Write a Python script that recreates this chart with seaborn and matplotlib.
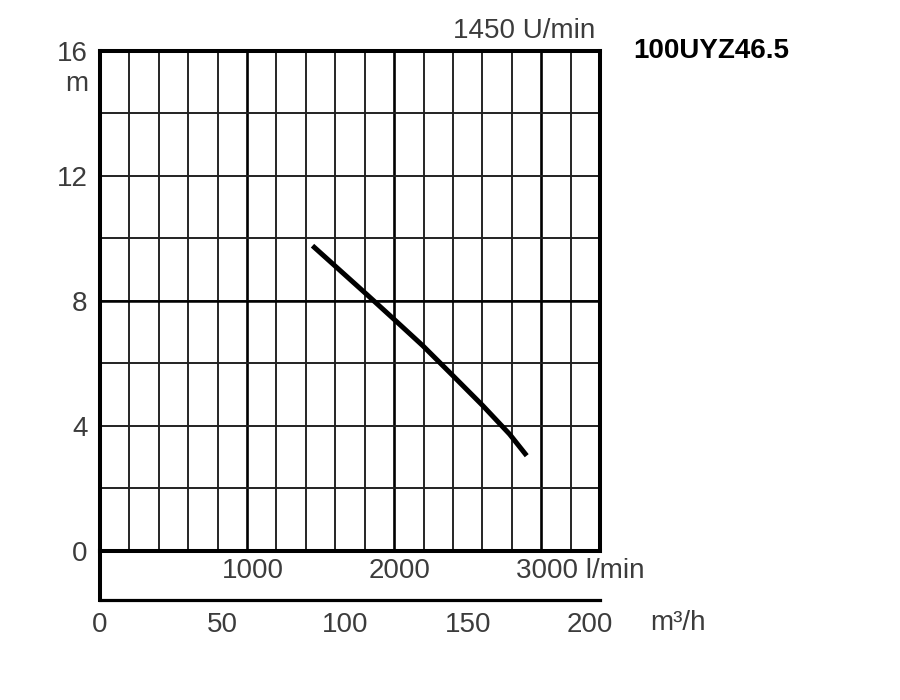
import pandas as pd
import seaborn as sns
import matplotlib.pyplot as plt

# pump curve (flow in m3/h, head in m)
flow_m3h = [86.7, 108.7, 120.6, 131.7, 144.0, 156.2, 167.1, 174.1]
head_m = [9.76, 8.21, 7.36, 6.56, 5.60, 4.64, 3.73, 3.04]

head_ticks = [0, 4, 8, 12, 16]
head_minor = [2, 6, 10, 14]
flow_ticks = [0, 50, 100, 150, 200]
lmin_labels = [1000, 2000, 3000]
lmin_grid = list(range(200, 3400, 200))
speed_label = '1450 U/min'
model_name = '100UYZ46.5'

X_MAX = 204  # 3400 l/min
TXT = '#3c3c3c'


def lmin_to_m3h(v):
    return v * 0.06


sns.set_style('white')
plt.rcParams['font.family'] = ['Liberation Sans', 'DejaVu Sans']

fig = plt.figure(figsize=(9, 7), dpi=100)
ax = fig.add_axes([100 / 900, 149.3 / 700, 500 / 900, 500 / 700])
ax2 = fig.add_axes([100 / 900, 100 / 700, 500 / 900, 49.3 / 700])

df = pd.DataFrame({'Q': flow_m3h, 'H': head_m})
sns.lineplot(data=df, x='Q', y='H', ax=ax, color='black', lw=3.6, sort=False,
             solid_capstyle='butt', zorder=5)

ax.set_xlim(0, X_MAX)
ax.set_ylim(0, 16)
ax.set_xlabel('')
ax.set_ylabel('')

# grid: thin every 200 l/min, heavier every 1000 l/min
ax.set_xticks([lmin_to_m3h(v) for v in lmin_labels])
ax.set_xticks([lmin_to_m3h(v) for v in lmin_grid if v not in lmin_labels], minor=True)
ax.set_yticks(head_ticks)
ax.set_yticks(head_minor, minor=True)
ax.grid(True, which='major', axis='x', color='black', lw=1.9)
ax.grid(True, which='minor', axis='x', color='black', lw=1.2)
ax.grid(True, which='both', axis='y', color='#222222', lw=1.4)
ax.axhline(8, color='black', lw=1.8)
ax.tick_params(axis='x', which='both', length=0, labelbottom=False)
ax.tick_params(axis='y', which='both', length=0, pad=9, labelsize=20, labelcolor=TXT)
for s in ax.spines.values():
    s.set_visible(True)
    s.set_color('black')
    s.set_linewidth(2.9)

ax.text(-0.024, 14.95, 'm', transform=ax.get_yaxis_transform(), ha='right', va='center',
        fontsize=20, color=TXT)

# lower strip: l/min labels and m3/h axis
ax2.set_xlim(0, X_MAX)
ax2.set_ylim(0, 1)
ax2.set_yticks([])
ax2.set_xticks(flow_ticks)
ax2.tick_params(axis='x', length=4, width=1, color='black', pad=5, labelsize=20, labelcolor=TXT)
ax2.patch.set_alpha(0)
for side in ['top', 'right']:
    ax2.spines[side].set_visible(False)
ax2.spines['left'].set_color('black')
ax2.spines['left'].set_linewidth(2.9)
ax2.spines['bottom'].set_color('black')
ax2.spines['bottom'].set_linewidth(2.3)

for i, v in enumerate(lmin_labels):
    txt = f'{v} l/min' if i == len(lmin_labels) - 1 else f'{v}'
    ax2.text(lmin_to_m3h(v) - 25 * X_MAX / 500, 0.58, txt, ha='left', va='center',
             fontsize=20, color=TXT)

ax2.text(1.1, -0.61, 'm³/h', transform=ax2.transAxes, ha='left', va='baseline',
         fontsize=20, color=TXT)

fig.text(595 / 900, 1 - 31 / 700, speed_label, ha='right', va='center',
         fontsize=20, color=TXT)
fig.text(633 / 900, 1 - 51 / 700, model_name, ha='left', va='center',
         fontsize=20, fontweight='bold', color='black')

fig.savefig('out.png', dpi=100)
